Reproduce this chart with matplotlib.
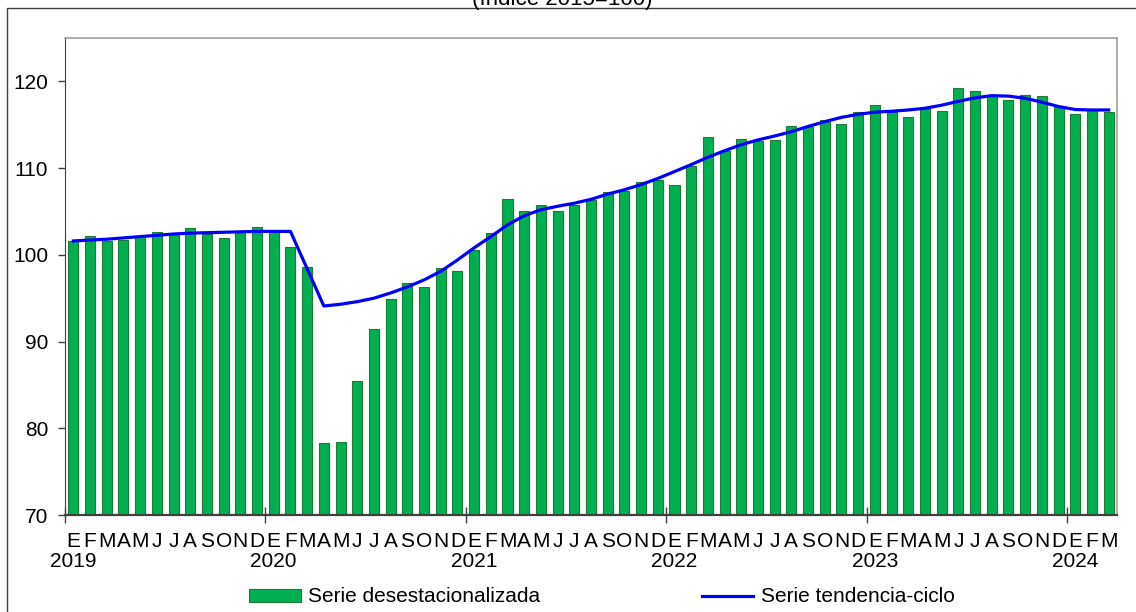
import matplotlib
matplotlib.use('Agg')
import matplotlib.pyplot as plt
from matplotlib.patches import Rectangle
from matplotlib.transforms import blended_transform_factory
import numpy as np

plt.rcParams['font.family'] = ['Liberation Sans', 'DejaVu Sans']

month_letters = ['E', 'F', 'M', 'A', 'M', 'J', 'J', 'A', 'S', 'O', 'N', 'D']
years = ['2019', '2020', '2021', '2022', '2023', '2024']

# Serie desestacionalizada, Jan 2019 .. Mar 2024
desest = [101.6, 102.2, 101.6, 101.7, 102.0, 102.6, 102.4, 103.1, 102.4, 101.9, 102.8, 103.2,
          102.7, 100.9, 98.6, 78.3, 78.4, 85.5, 91.5, 94.9, 96.7, 96.3, 98.5, 98.1,
          100.5, 102.5, 106.4, 105.1, 105.8, 105.1, 105.8, 106.3, 107.3, 107.4, 108.4, 108.6,
          108.1, 110.2, 113.6, 112.0, 113.3, 113.1, 113.2, 114.8, 114.7, 115.5, 115.1, 116.5,
          117.3, 116.5, 115.9, 116.8, 116.6, 119.2, 118.9, 118.3, 117.8, 118.4, 118.3, 117.1,
          116.2, 116.7, 116.5]

# Serie tendencia-ciclo
trend = [101.6, 101.7, 101.8, 101.95, 102.1, 102.25, 102.4, 102.5, 102.55, 102.6, 102.65, 102.7,
         102.7, 102.7, 98.4, 94.1, 94.3, 94.6, 95.0, 95.6, 96.3, 97.1, 98.1, 99.4,
         100.8, 102.1, 103.45, 104.5, 105.2, 105.6, 105.95, 106.4, 107.0, 107.5, 108.1, 108.8,
         109.6, 110.4, 111.25, 112.0, 112.7, 113.25, 113.7, 114.2, 114.8, 115.35, 115.85, 116.2,
         116.45, 116.55, 116.7, 116.9, 117.25, 117.7, 118.1, 118.35, 118.3, 118.05, 117.6, 117.1,
         116.75, 116.7, 116.7]

n = len(desest)
xs = np.arange(n)
fs = 15

fig = plt.figure(figsize=(11.36, 6.12), dpi=100)
ax = fig.add_axes([65 / 1136, 1 - 515 / 612, (1117 - 65) / 1136, (515 - 38) / 612])

bars = ax.bar(xs, desest, width=0.6, color='#00B050', edgecolor='#1E7A32', lw=0.8,
              label='Serie desestacionalizada', zorder=2)
line, = ax.plot(xs, trend, '-', color='#0000FF', lw=2.3, label='Serie tendencia-ciclo', zorder=3)

ax.set_xlim(-0.5, n - 0.5)
ax.set_ylim(70, 125)
ax.set_yticks([70, 80, 90, 100, 110, 120])
ax.tick_params(axis='y', labelsize=fs, length=5, width=1, color='#404040', pad=7)

# year boundary ticks and month letters
ax.set_xticks(np.arange(-0.5, n, 12))
ax.set_xticklabels([])
ax.tick_params(axis='x', which='major', direction='inout', length=11, width=1, color='#404040')
ax.set_xticks(xs, minor=True)
ax.set_xticklabels([month_letters[i % 12] for i in xs], minor=True)
ax.tick_params(axis='x', which='minor', length=0, labelsize=fs, pad=12)

trans = blended_transform_factory(ax.transData, ax.transAxes)
for k, yr in enumerate(years):
    ax.text(k * 12, -0.098, yr, transform=trans, ha='center', va='center', fontsize=fs)

ax.spines['left'].set_color('#404040')
ax.spines['bottom'].set_color('#404040')
ax.spines['bottom'].set_linewidth(1.6)
ax.spines['top'].set_color('#A0A0A0')
ax.spines['right'].set_color('#A0A0A0')
ax.spines['top'].set_linewidth(1.2)
ax.spines['right'].set_linewidth(1.2)

fig.legend([bars, line], ['Serie desestacionalizada', 'Serie tendencia-ciclo'],
           loc='center', bbox_to_anchor=(0.530, 1 - 597 / 612), ncol=2, frameon=False,
           fontsize=fs, handlelength=2.45, handletextpad=0.35, columnspacing=7.8,
           handleheight=0.6, borderaxespad=0)

# outer frame and clipped heading
fig.patches.append(Rectangle((7 / 1136, -0.1), 1.5, (612 - 8) / 612 + 0.1,
                             transform=fig.transFigure, fill=False, ec='#404040', lw=1))
fig.text(562 / 1136, 1 - 5 / 612, '(Índice 2015=100)', ha='center', va='baseline', fontsize=16)

plt.savefig('out.png', dpi=100)
